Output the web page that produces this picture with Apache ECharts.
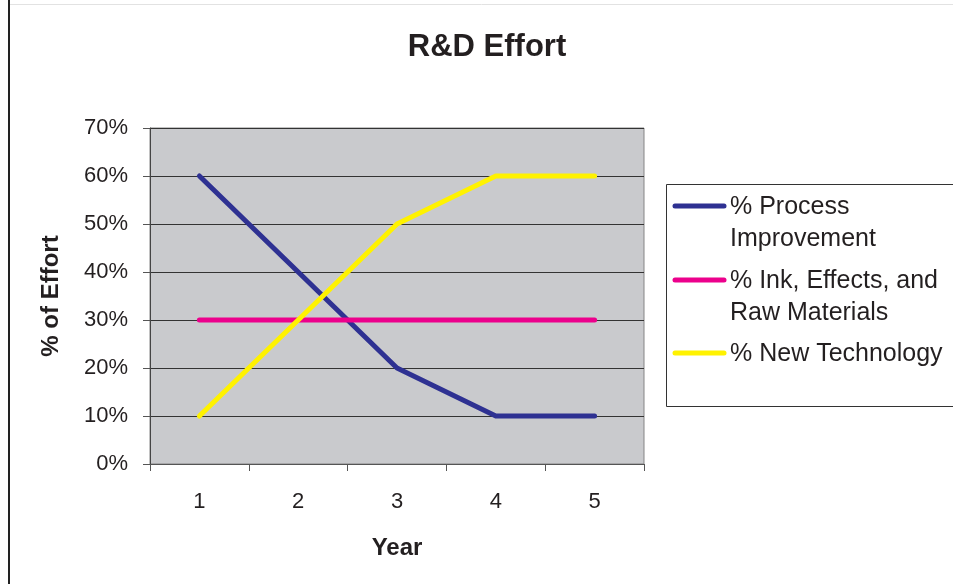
<!DOCTYPE html>
<html>
<head>
<meta charset="utf-8">
<script src="https://cdn.jsdelivr.net/npm/echarts@6/dist/echarts.min.js"></script>
<style>
  html, body { margin: 0; padding: 0; background: #fff; }
  #chart { width: 953px; height: 584px; }
</style>
</head>
<body>
<div id="chart"></div>
<script>
(function() {
const years = ['1', '2', '3', '4', '5'];
const processImprovement = [60, 40, 20, 10, 10];
const inkEffectsRaw = [30, 30, 30, 30, 30];
const newTechnology = [10, 30, 50, 60, 60];
const seriesNames = ['% Process Improvement', '% Ink, Effects, and Raw Materials', '% New Technology'];
const legendLabels = ['% Process\nImprovement', '% Ink, Effects, and\nRaw Materials', '% New Technology'];
const colors = ['#2e3192', '#ec008c', '#fff200'];

const font = '"Liberation Sans", Arial, sans-serif';
const textColor = '#231f20';

// legend drawn by hand so the icon sits on the first text line
const legendRows = [206, 280, 353];
const legendGraphic = [{
    type: 'rect',
    shape: { x: 666.5, y: 184.5, width: 300, height: 222 },
    style: { fill: '#fff', stroke: '#333', lineWidth: 1 }
}];
legendLabels.forEach((label, i) => {
    legendGraphic.push({
        type: 'line',
        shape: { x1: 675, y1: legendRows[i], x2: 724, y2: legendRows[i] },
        style: { stroke: colors[i], lineWidth: 5, lineCap: 'round' }
    });
    legendGraphic.push({
        type: 'text',
        x: 730,
        y: legendRows[i] - 15,
        style: {
            text: label,
            font: '25px ' + font,
            fill: textColor,
            lineHeight: 32,
            verticalAlign: 'top'
        }
    });
});

const option = {
    backgroundColor: '#fff',
    animation: false,
    color: colors,
    title: {
        text: 'R&D Effort',
        left: 482,
        top: 27,
        textAlign: 'center',
        textStyle: { fontFamily: font, fontSize: 31, fontWeight: 'bold', color: textColor }
    },
    grid: {
        left: 150,
        top: 128,
        right: 309,
        bottom: 120,
        show: true,
        backgroundColor: '#c9cacd',
        borderColor: '#858585',
        borderWidth: 1
    },
    xAxis: {
        type: 'category',
        data: years,
        boundaryGap: true,
        name: 'Year',
        nameLocation: 'middle',
        nameGap: 72,
        nameTextStyle: { fontFamily: font, fontSize: 24, fontWeight: 'bold', color: textColor },
        axisLine: { lineStyle: { color: '#555', width: 1 } },
        axisTick: { show: true, length: 7, lineStyle: { color: '#555' } },
        axisLabel: { fontFamily: font, fontSize: 22, color: textColor, margin: 27 }
    },
    yAxis: {
        type: 'value',
        min: 0,
        max: 70,
        interval: 10,
        name: '% of Effort',
        nameLocation: 'middle',
        nameRotate: 90,
        nameGap: 87,
        nameTextStyle: { fontFamily: font, fontSize: 24, fontWeight: 'bold', color: textColor },
        axisLine: { show: true, lineStyle: { color: '#444', width: 1 } },
        axisTick: { show: true, length: 7, lineStyle: { color: '#555' } },
        axisLabel: {
            fontFamily: font, fontSize: 22, color: textColor, margin: 22,
            formatter: (v) => v + '%'
        },
        splitLine: { show: true, lineStyle: { color: '#333', width: 1 } }
    },
    series: [processImprovement, inkEffectsRaw, newTechnology].map((values, i) => ({
        name: seriesNames[i],
        type: 'line',
        data: values,
        symbol: 'none',
        lineStyle: { color: colors[i], width: 5, cap: 'round', join: 'round' }
    })),
    graphic: [
        {
            type: 'line',
            shape: { x1: 9, y1: 0, x2: 9, y2: 584 },
            style: { stroke: '#222', lineWidth: 2 }
        },
        {
            type: 'line',
            shape: { x1: 10, y1: 4.5, x2: 953, y2: 4.5 },
            style: { stroke: '#e2e2e2', lineWidth: 1 }
        }
    ].concat(legendGraphic)
};

const chart = echarts.init(document.getElementById('chart'));
chart.setOption(option);
window.addEventListener('resize', () => chart.resize());
})();
</script>
</body>
</html>
